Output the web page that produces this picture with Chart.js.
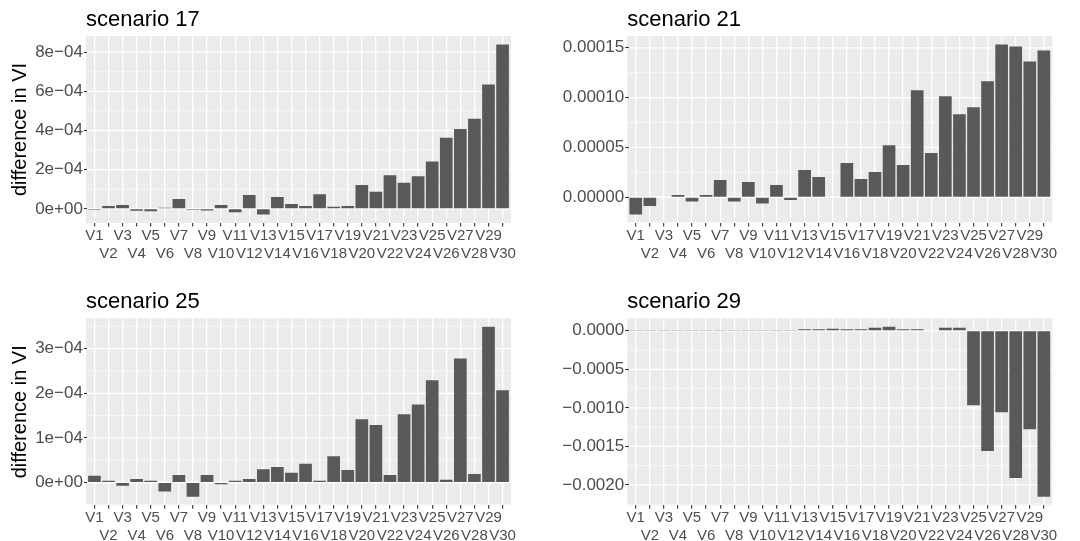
<!DOCTYPE html>
<html>
<head>
<meta charset="utf-8">
<script src="https://cdn.jsdelivr.net/npm/chart.js@4.4.1/dist/chart.umd.min.js"></script>
<style>
  body { margin: 0; background: #ffffff; }
  #wrap { position: relative; width: 1080px; height: 541px; }
  .panel { position: absolute; }
</style>
</head>
<body>
<div id="wrap">
  <div class="panel" style="left:0;top:0;width:540px;height:270px"><canvas id="s17"></canvas></div>
  <div class="panel" style="left:540px;top:0;width:540px;height:270px"><canvas id="s21"></canvas></div>
  <div class="panel" style="left:0;top:270px;width:540px;height:271px"><canvas id="s25"></canvas></div>
  <div class="panel" style="left:540px;top:270px;width:540px;height:271px"><canvas id="s29"></canvas></div>
</div>
<script>
const varNames = ['V1', 'V2', 'V3', 'V4', 'V5', 'V6', 'V7', 'V8', 'V9', 'V10',
    'V11', 'V12', 'V13', 'V14', 'V15', 'V16', 'V17', 'V18', 'V19', 'V20',
    'V21', 'V22', 'V23', 'V24', 'V25', 'V26', 'V27', 'V28', 'V29', 'V30'];

// difference in VI per variable, one array per scenario
const scenario17 = [-0.05e-4, 0.15e-4, 0.2e-4, -0.1e-4, -0.13e-4, 0.05e-4, 0.5e-4, -0.05e-4, -0.08e-4, 0.2e-4,
    -0.18e-4, 0.7e-4, -0.29e-4, 0.6e-4, 0.25e-4, 0.15e-4, 0.75e-4, 0.1e-4, 0.15e-4, 1.21e-4,
    0.87e-4, 1.71e-4, 1.33e-4, 1.66e-4, 2.42e-4, 3.63e-4, 4.08e-4, 4.6e-4, 6.35e-4, 8.39e-4];
const scenario21 = [-1.73e-5, -0.87e-5, -0.05e-5, 0.23e-5, -0.43e-5, 0.23e-5, 1.73e-5, -0.43e-5, 1.53e-5, -0.63e-5,
    1.23e-5, -0.27e-5, 2.73e-5, 2.03e-5, 0.04e-5, 3.43e-5, 1.83e-5, 2.53e-5, 5.23e-5, 3.23e-5,
    10.73e-5, 4.43e-5, 10.13e-5, 8.33e-5, 9.03e-5, 11.63e-5, 15.33e-5, 15.13e-5, 13.63e-5, 14.73e-5];
const scenario25 = [0.15e-4, 0.04e-4, -0.07e-4, 0.08e-4, 0.04e-4, -0.2e-4, 0.17e-4, -0.32e-4, 0.17e-4, -0.04e-4,
    0.04e-4, 0.08e-4, 0.3e-4, 0.35e-4, 0.22e-4, 0.42e-4, 0.04e-4, 0.59e-4, 0.28e-4, 1.42e-4,
    1.29e-4, 0.17e-4, 1.53e-4, 1.75e-4, 2.29e-4, 0.06e-4, 2.78e-4, 0.19e-4, 3.49e-4, 2.07e-4];
const scenario29 = [0.1e-4, 0.1e-4, 0.1e-4, 0.1e-4, 0.1e-4, 0.1e-4, 0.1e-4, 0.1e-4, 0.1e-4, 0.1e-4,
    0.1e-4, 0.1e-4, 0.2e-4, 0.2e-4, 0.28e-4, 0.2e-4, 0.2e-4, 0.4e-4, 0.52e-4, 0.2e-4,
    0.2e-4, 0.06e-4, 0.4e-4, 0.4e-4, -9.68e-4, -15.6e-4, -10.58e-4, -19.1e-4, -12.77e-4, -21.55e-4];

// y axis breaks and their labels
const ticks17 = [0, 2e-4, 4e-4, 6e-4, 8e-4];
const labels17 = ['0e+00', '2e\u221204', '4e\u221204', '6e\u221204', '8e\u221204'];
const ticks21 = [0, 5e-5, 1e-4, 1.5e-4];
const labels21 = ['0.00000', '0.00005', '0.00010', '0.00015'];
const ticks25 = [0, 1e-4, 2e-4, 3e-4];
const labels25 = ['0e+00', '1e\u221204', '2e\u221204', '3e\u221204'];
const ticks29 = [-0.002, -0.0015, -0.001, -0.0005, 0];
const labels29 = ['\u22120.0020', '\u22120.0015', '\u22120.0010', '\u22120.0005', '0.0000'];

const FONT = '"Liberation Sans", Arial, sans-serif';

// grey panel, minor/major horizontal grid and the panel title
const ggPanel = {
    id: 'ggPanel',
    beforeDraw(chart) {
        const { ctx, chartArea: a, scales: { x, y } } = chart;
        const unit = x.getPixelForValue(1) - x.getPixelForValue(0);
        const left = a.left - unit * 0.1;
        const right = a.right + unit * 0.1;
        ctx.save();
        ctx.fillStyle = '#ebebeb';
        ctx.fillRect(left, a.top, right - left, a.bottom - a.top);

        const vals = y.ticks.map(t => t.value);
        const step = vals[1] - vals[0];
        const hline = (v, w) => {
            if (v < y.min || v > y.max) return;
            const py = y.getPixelForValue(v);
            ctx.beginPath();
            ctx.lineWidth = w;
            ctx.strokeStyle = '#ffffff';
            ctx.moveTo(left, py);
            ctx.lineTo(right, py);
            ctx.stroke();
        };
        for (let i = -1; i < vals.length; i++) hline(vals[0] + step * (i + 0.5), 0.6);
        vals.forEach(v => hline(v, 1.3));
        ctx.restore();
    },
    afterDraw(chart, args, opts) {
        const { ctx, chartArea: a, scales: { x } } = chart;
        const unit = x.getPixelForValue(1) - x.getPixelForValue(0);
        ctx.save();
        ctx.fillStyle = '#000000';
        ctx.font = '22px ' + FONT;
        ctx.textAlign = 'left';
        ctx.textBaseline = 'alphabetic';
        ctx.fillText(opts.text, a.left - unit * 0.1, a.top - 10);
        ctx.restore();
    }
};

function makePanel(id, title, values, tickVals, tickLabels, yTitle, geo) {
    const lo = Math.min(0, ...values);
    const hi = Math.max(0, ...values);
    const pad = (hi - lo) * 0.05;

    return new Chart(document.getElementById(id), {
        type: 'bar',
        data: {
            labels: varNames,
            datasets: [{
                data: values,
                backgroundColor: '#595959',
                borderWidth: 0,
                barPercentage: 0.9,
                categoryPercentage: 1
            }]
        },
        plugins: [ggPanel],
        options: {
            animation: false,
            responsive: true,
            maintainAspectRatio: false,
            devicePixelRatio: 1,
            layout: { padding: { left: 0, right: geo.padRight, top: geo.padTop, bottom: 0 } },
            plugins: {
                legend: { display: false },
                tooltip: { enabled: false },
                ggPanel: { text: title }
            },
            scales: {
                x: {
                    grid: {
                        offset: false,
                        color: '#ffffff',
                        lineWidth: 1.3,
                        tickColor: '#333333',
                        tickLength: 3.5,
                        tickWidth: 1.1
                    },
                    border: { display: false },
                    ticks: {
                        autoSkip: false,
                        maxRotation: 0,
                        minRotation: 0,
                        padding: 0,
                        color: '#4d4d4d',
                        font: { family: FONT, size: 15, lineHeight: 1.2 },
                        callback: (v, i) => i % 2 === 0 ? [varNames[i], ''] : ['', varNames[i]]
                    },
                    afterFit: s => { s.height = geo.xHeight; }
                },
                y: {
                    min: lo - pad,
                    max: hi + pad,
                    grid: {
                        drawOnChartArea: false,
                        tickColor: '#333333',
                        tickLength: 3.5,
                        tickWidth: 1.1
                    },
                    border: { display: false },
                    afterBuildTicks: s => { s.ticks = tickVals.map(v => ({ value: v })); },
                    ticks: {
                        padding: 1,
                        color: '#4d4d4d',
                        font: { family: FONT, size: 17 },
                        callback: (v, i) => tickLabels[i]
                    },
                    afterFit: s => { s.width = geo.yWidth; },
                    title: {
                        display: !!yTitle,
                        text: yTitle,
                        color: '#000000',
                        font: { family: FONT, size: 20 },
                        padding: { top: 8, bottom: 0 }
                    }
                }
            }
        }
    });
}

makePanel('s17', 'scenario 17', scenario17, ticks17, labels17, 'difference in VI',
    { yWidth: 87.4, padRight: 30.4, padTop: 36, xHeight: 47 });
makePanel('s21', 'scenario 21', scenario21, ticks21, labels21, '',
    { yWidth: 88.7, padRight: 29.1, padTop: 36, xHeight: 47 });
makePanel('s25', 'scenario 25', scenario25, ticks25, labels25, 'difference in VI',
    { yWidth: 87.4, padRight: 30.4, padTop: 48.3, xHeight: 35.7 });
makePanel('s29', 'scenario 29', scenario29, ticks29, labels29, '',
    { yWidth: 88.7, padRight: 29.1, padTop: 48.3, xHeight: 35.7 });
</script>
</body>
</html>
